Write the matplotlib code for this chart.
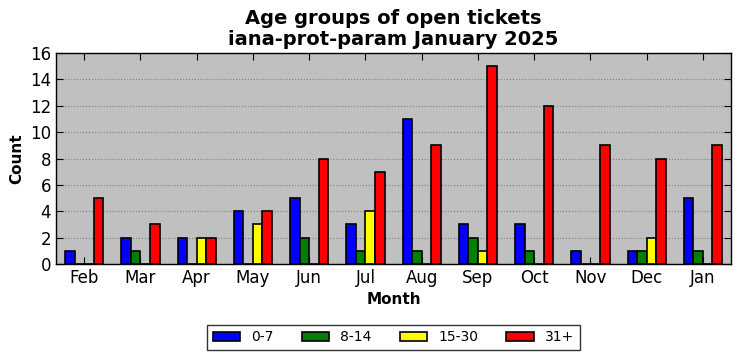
import numpy as np
import matplotlib
matplotlib.use("Agg")
import matplotlib.pyplot as plt

months = ['Feb', 'Mar', 'Apr', 'May', 'Jun', 'Jul', 'Aug', 'Sep', 'Oct', 'Nov', 'Dec', 'Jan']
age_0_7 = [1, 2, 2, 4, 5, 3, 11, 3, 3, 1, 1, 5]
age_8_14 = [0, 1, 0, 0, 2, 1, 1, 2, 1, 0, 1, 1]
age_15_30 = [0, 0, 2, 3, 0, 4, 0, 1, 0, 0, 2, 0]
age_31_plus = [5, 3, 2, 4, 8, 7, 9, 15, 12, 9, 8, 9]

series = [('0-7', age_0_7, 'blue'), ('8-14', age_8_14, 'green'),
          ('15-30', age_15_30, 'yellow'), ('31+', age_31_plus, 'red')]

fig = plt.figure(figsize=(7.41, 3.61), dpi=100)
ax = fig.add_axes([56/741, 1 - 264/361, (731-56)/741, (264-53)/361])
ax.set_facecolor('#c0c0c0')

x = np.arange(len(months))
w = 0.17
for i, (label, vals, col) in enumerate(series):
    ax.bar(x + (i - 1.5) * w, vals, w, color=col, edgecolor='black',
           linewidth=1.2, label=label, zorder=3)

ax.set_xlim(-0.5, 11.5)
ax.set_ylim(0, 16)
ax.set_yticks(range(0, 17, 2))
ax.set_xticks(x)
ax.set_xticklabels(months)
ax.tick_params(direction='in', top=True, right=True, labelsize=12, length=5)
ax.yaxis.grid(True, linestyle=':', color='gray', linewidth=0.8, zorder=0)
for s in ax.spines.values():
    s.set_linewidth(1.0)

ax.set_xlabel('Month', fontsize=11, fontweight='bold')
ax.set_ylabel('Count', fontsize=11, fontweight='bold')
ax.set_title('Age groups of open tickets\niana-prot-param January 2025',
             fontsize=14, fontweight='bold', linespacing=1.1)

leg = ax.legend(loc='upper center', bbox_to_anchor=(0.5, -0.255), ncol=4,
                fancybox=False, edgecolor='black', fontsize=10,
                handlelength=2.0, columnspacing=2.0, borderpad=0.4)
leg.get_frame().set_linewidth(1.0)

fig.savefig('out.png', dpi=100)
